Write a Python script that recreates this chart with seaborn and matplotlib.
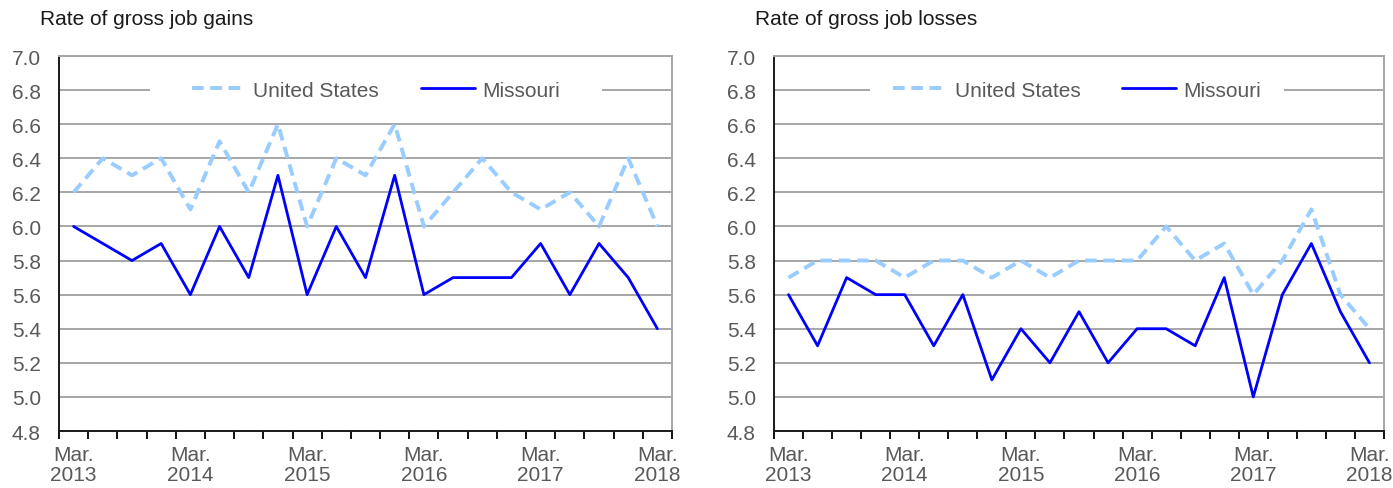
import numpy as np
import pandas as pd
import matplotlib
matplotlib.use("Agg")
import matplotlib.pyplot as plt
from matplotlib.path import Path
import seaborn as sns

# Quarterly periods, March 2013 through March 2018
quarters = [
    "Mar 2013", "Jun 2013", "Sep 2013", "Dec 2013",
    "Mar 2014", "Jun 2014", "Sep 2014", "Dec 2014",
    "Mar 2015", "Jun 2015", "Sep 2015", "Dec 2015",
    "Mar 2016", "Jun 2016", "Sep 2016", "Dec 2016",
    "Mar 2017", "Jun 2017", "Sep 2017", "Dec 2017",
    "Mar 2018",
]
tick_positions = [0, 4, 8, 12, 16, 20]
tick_labels = ["Mar.\n2013", "Mar.\n2014", "Mar.\n2015", "Mar.\n2016", "Mar.\n2017", "Mar.\n2018"]
y_ticks = [4.8, 5.0, 5.2, 5.4, 5.6, 5.8, 6.0, 6.2, 6.4, 6.6, 6.8, 7.0]

areas = ["United States", "Missouri"]

gains_us = [6.2, 6.4, 6.3, 6.4, 6.1, 6.5, 6.2, 6.6, 6.0, 6.4, 6.3, 6.6,
            6.0, 6.2, 6.4, 6.2, 6.1, 6.2, 6.0, 6.4, 6.0]
gains_mo = [6.0, 5.9, 5.8, 5.9, 5.6, 6.0, 5.7, 6.3, 5.6, 6.0, 5.7, 6.3,
            5.6, 5.7, 5.7, 5.7, 5.9, 5.6, 5.9, 5.7, 5.4]
losses_us = [5.7, 5.8, 5.8, 5.8, 5.7, 5.8, 5.8, 5.7, 5.8, 5.7, 5.8, 5.8,
             5.8, 6.0, 5.8, 5.9, 5.6, 5.8, 6.1, 5.6, 5.4]
losses_mo = [5.6, 5.3, 5.7, 5.6, 5.6, 5.3, 5.6, 5.1, 5.4, 5.2, 5.5, 5.2,
             5.4, 5.4, 5.3, 5.7, 5.0, 5.6, 5.9, 5.5, 5.2]

palette = {"United States": "#99CCFF", "Missouri": "#0000FF"}
widths = {"United States": 2.8, "Missouri": 2.0}
dash_styles = {"United States": (3.0, 1.7), "Missouri": ""}

GRID = "#A6A6A6"
LABEL = "#595959"

sns.set_style("white")
plt.rcParams["font.family"] = ["Liberation Sans", "DejaVu Sans"]


def long_frame(us, mo):
    n = len(quarters)
    return pd.DataFrame({
        "idx": list(range(n)) * 2,
        "quarter": quarters * 2,
        "rate": list(us) + list(mo),
        "area": ["United States"] * n + ["Missouri"] * n,
    })


def make_box(pad_x, pad_y):
    def box(x0, y0, width, height, mutation_size):
        px = pad_x * mutation_size
        py = pad_y * mutation_size
        verts = [(x0 - px, y0 - py), (x0 + width + px, y0 - py),
                 (x0 + width + px, y0 + height + py), (x0 - px, y0 + height + py),
                 (x0 - px, y0 - py)]
        return Path(verts, closed=True)
    return box


def draw_panel(ax, us, mo, legend_x, legend_pad):
    df = long_frame(us, mo)
    sns.lineplot(data=df, x="idx", y="rate", hue="area", style="area", size="area",
                 hue_order=areas, style_order=areas, size_order=areas,
                 palette=palette, dashes=dash_styles, sizes=widths,
                 markers=False, ax=ax, zorder=3)

    ax.set_xlim(-0.5, len(quarters) - 0.5)
    ax.set_ylim(4.8, 7.0)
    ax.set_xlabel("")
    ax.set_ylabel("")

    # quarter boundaries carry the tick marks; March labels sit at slot centres
    ax.set_xticks(np.arange(-0.5, len(quarters), 1.0))
    ax.set_xticklabels([])
    ax.set_xticks(tick_positions, minor=True)
    ax.set_xticklabels(tick_labels, minor=True, fontsize=15, color=LABEL,
                       linespacing=1.05)
    ax.tick_params(axis="x", which="major", length=6, width=1.3,
                   color="black", direction="out", bottom=True)
    ax.tick_params(axis="x", which="minor", length=0, pad=10, bottom=True)

    ax.set_yticks(y_ticks)
    ax.set_yticklabels([f"{v:.1f}" for v in y_ticks], fontsize=15, color=LABEL)
    ax.tick_params(axis="y", length=0, pad=13)

    ax.grid(axis="y", color=GRID, linewidth=1.4)
    ax.grid(axis="x", visible=False)
    ax.set_axisbelow(True)

    for side in ("top", "right"):
        ax.spines[side].set_color(GRID)
        ax.spines[side].set_linewidth(1.4)
    for side in ("left", "bottom"):
        ax.spines[side].set_color("#1A1A1A")
        ax.spines[side].set_linewidth(1.4)

    handles, labels = ax.get_legend_handles_labels()
    pairs = {l: h for h, l in zip(handles, labels)}
    leg = ax.legend([pairs[a] for a in areas], areas, loc="center",
                    bbox_to_anchor=(legend_x, 2.0 / 2.2), ncol=2,
                    frameon=True, fancybox=False, framealpha=1.0,
                    facecolor="white", edgecolor="none", borderpad=0.2,
                    handlelength=2.6, handletextpad=0.35, columnspacing=2.0,
                    prop={"size": 15})
    for text in leg.get_texts():
        text.set_color(LABEL)
    leg.legendPatch.set_boxstyle(make_box(*legend_pad))
    leg.set_zorder(5)


fig = plt.figure(figsize=(13.93, 4.89), dpi=100)
ax1 = fig.add_axes([59 / 1393, 1 - 432 / 489, (672 - 59) / 1393, (432 - 57) / 489])
ax2 = fig.add_axes([774 / 1393, 1 - 432 / 489, (1384 - 774) / 1393, (432 - 57) / 489])

draw_panel(ax1, gains_us, gains_mo, 0.517, (1.8, 0.1))
draw_panel(ax2, losses_us, losses_mo, 0.497, (0.9, 0.1))

fig.text(40 / 1393, 1 - 10 / 489, "Rate of gross job gains", fontsize=15,
         color="#1A1A1A", ha="left", va="top")
fig.text(755 / 1393, 1 - 10 / 489, "Rate of gross job losses", fontsize=15,
         color="#1A1A1A", ha="left", va="top")

fig.savefig("out.png", dpi=100, facecolor="white")
